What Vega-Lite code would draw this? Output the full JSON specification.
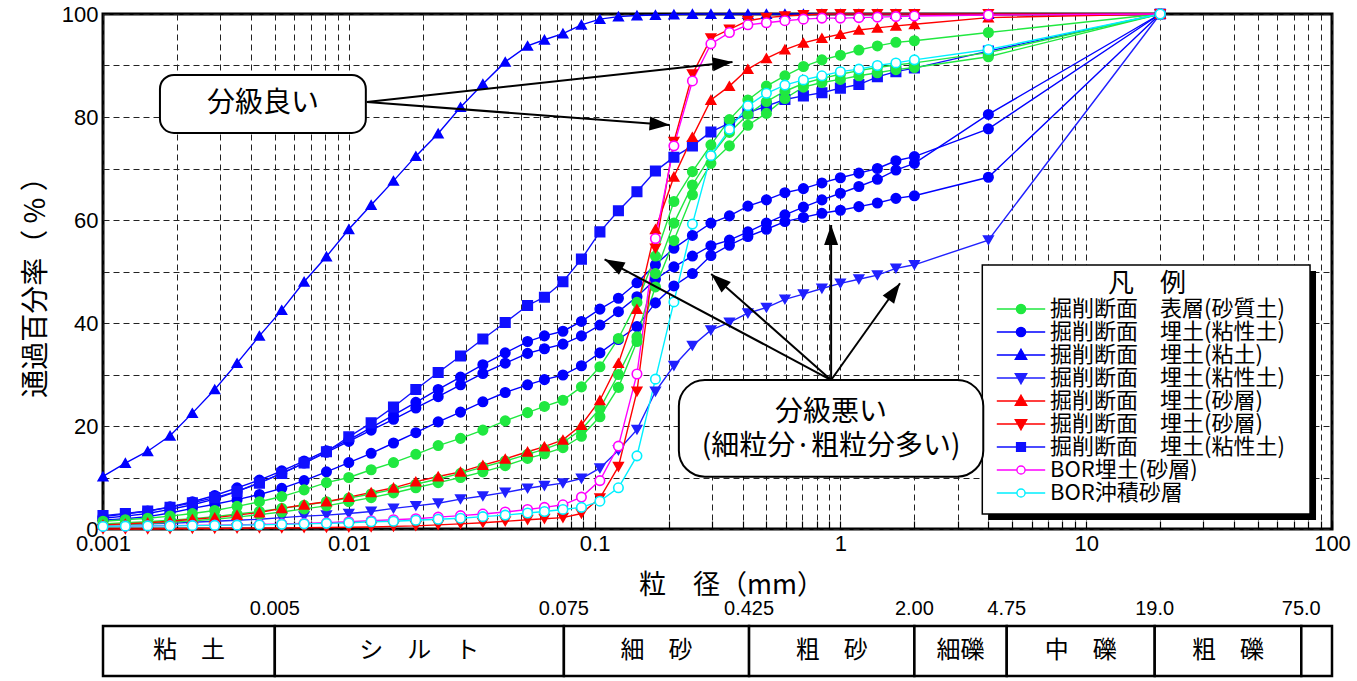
{
"$schema":"https://vega.github.io/schema/vega-lite/v6.json",
"width":1229,"height":515,
"autosize":{"type":"none"},
"padding":{"left":103,"top":14,"right":25,"bottom":152},
"background":"white",
"config":{
"font":"Noto Sans CJK JP",
"view":{"stroke":"#000","strokeWidth":3},
"axis":{"gridColor":"#222","gridDash":[6,4],"gridWidth":1,"domain":false,"labelColor":"#000","titleColor":"#000","labelFont":"Liberation Sans","labelFontSize":22,"titleFont":"Noto Sans CJK JP","titleFontWeight":"normal"},
"text":{"font":"Noto Sans CJK JP","color":"#000"}
},
"datasets":{
"curves":[
{"s":"B3","k":"2","x":0.001,"y":1.7},{"s":"B3","k":"2","x":0.001233,"y":2.0},{"s":"B3","k":"2","x":0.00152,"y":2.4},{"s":"B3","k":"2","x":0.001874,"y":3.1},{"s":"B3","k":"2","x":0.00231,"y":4.0},{"s":"B3","k":"2","x":0.002848,"y":4.8},{"s":"B3","k":"2","x":0.003511,"y":5.7},{"s":"B3","k":"2","x":0.004329,"y":6.7},{"s":"B3","k":"2","x":0.005337,"y":7.9},{"s":"B3","k":"2","x":0.006579,"y":9.4},{"s":"B3","k":"2","x":0.008111,"y":11.1},{"s":"B3","k":"2","x":0.01,"y":12.9},{"s":"B3","k":"2","x":0.01233,"y":14.7},{"s":"B3","k":"2","x":0.0152,"y":16.7},{"s":"B3","k":"2","x":0.01874,"y":18.7},{"s":"B3","k":"2","x":0.0231,"y":20.8},{"s":"B3","k":"2","x":0.02848,"y":22.7},{"s":"B3","k":"2","x":0.03511,"y":24.7},{"s":"B3","k":"2","x":0.04329,"y":26.5},{"s":"B3","k":"2","x":0.05337,"y":28.0},{"s":"B3","k":"2","x":0.0625,"y":29.0},{"s":"B3","k":"2","x":0.07433,"y":29.9},{"s":"B3","k":"2","x":0.08839,"y":31.7},{"s":"B3","k":"2","x":0.1051,"y":34.2},{"s":"B3","k":"2","x":0.125,"y":36.8},{"s":"B3","k":"2","x":0.1487,"y":39.3},{"s":"B3","k":"2","x":0.1768,"y":43.9},{"s":"B3","k":"2","x":0.2102,"y":47.2},{"s":"B3","k":"2","x":0.25,"y":49.6},{"s":"B3","k":"2","x":0.2973,"y":53.1},{"s":"B3","k":"2","x":0.3536,"y":55.1},{"s":"B3","k":"2","x":0.4204,"y":56.8},{"s":"B3","k":"2","x":0.5,"y":58.2},{"s":"B3","k":"2","x":0.5946,"y":59.7},{"s":"B3","k":"2","x":0.7071,"y":60.5},{"s":"B3","k":"2","x":0.8409,"y":61.3},{"s":"B3","k":"2","x":1,"y":61.9},{"s":"B3","k":"2","x":1.189,"y":62.6},{"s":"B3","k":"2","x":1.414,"y":63.3},{"s":"B3","k":"2","x":1.682,"y":64.2},{"s":"B3","k":"2","x":2,"y":64.7},{"s":"B3","k":"2","x":4,"y":68.3},{"s":"B3","k":"2","x":20,"y":100},
{"s":"B2","k":"2","x":0.001,"y":2.1},{"s":"B2","k":"2","x":0.001233,"y":2.5},{"s":"B2","k":"2","x":0.00152,"y":3.0},{"s":"B2","k":"2","x":0.001874,"y":3.8},{"s":"B2","k":"2","x":0.00231,"y":4.7},{"s":"B2","k":"2","x":0.002848,"y":5.8},{"s":"B2","k":"2","x":0.003511,"y":7.3},{"s":"B2","k":"2","x":0.004329,"y":9.0},{"s":"B2","k":"2","x":0.005337,"y":10.8},{"s":"B2","k":"2","x":0.006579,"y":12.8},{"s":"B2","k":"2","x":0.008111,"y":14.9},{"s":"B2","k":"2","x":0.01,"y":17.0},{"s":"B2","k":"2","x":0.01233,"y":19.2},{"s":"B2","k":"2","x":0.0152,"y":21.3},{"s":"B2","k":"2","x":0.01874,"y":23.5},{"s":"B2","k":"2","x":0.0231,"y":25.7},{"s":"B2","k":"2","x":0.02848,"y":28.0},{"s":"B2","k":"2","x":0.03511,"y":30.2},{"s":"B2","k":"2","x":0.04329,"y":32.2},{"s":"B2","k":"2","x":0.05337,"y":34.1},{"s":"B2","k":"2","x":0.0625,"y":35.0},{"s":"B2","k":"2","x":0.07433,"y":35.9},{"s":"B2","k":"2","x":0.08839,"y":37.5},{"s":"B2","k":"2","x":0.1051,"y":39.6},{"s":"B2","k":"2","x":0.125,"y":42.2},{"s":"B2","k":"2","x":0.1487,"y":45.1},{"s":"B2","k":"2","x":0.1768,"y":48.5},{"s":"B2","k":"2","x":0.2102,"y":50.9},{"s":"B2","k":"2","x":0.25,"y":53.0},{"s":"B2","k":"2","x":0.2973,"y":55.0},{"s":"B2","k":"2","x":0.3536,"y":56.1},{"s":"B2","k":"2","x":0.4204,"y":57.7},{"s":"B2","k":"2","x":0.5,"y":59.4},{"s":"B2","k":"2","x":0.5946,"y":61.0},{"s":"B2","k":"2","x":0.7071,"y":62.5},{"s":"B2","k":"2","x":0.8409,"y":63.9},{"s":"B2","k":"2","x":1,"y":65.2},{"s":"B2","k":"2","x":1.189,"y":66.5},{"s":"B2","k":"2","x":1.414,"y":67.9},{"s":"B2","k":"2","x":1.682,"y":69.7},{"s":"B2","k":"2","x":2,"y":71.0},{"s":"B2","k":"2","x":4,"y":80.5},{"s":"B2","k":"2","x":20,"y":100},
{"s":"B1","k":"2","x":0.001,"y":2.4},{"s":"B1","k":"2","x":0.001233,"y":2.9},{"s":"B1","k":"2","x":0.00152,"y":3.5},{"s":"B1","k":"2","x":0.001874,"y":4.3},{"s":"B1","k":"2","x":0.00231,"y":5.3},{"s":"B1","k":"2","x":0.002848,"y":6.5},{"s":"B1","k":"2","x":0.003511,"y":8.0},{"s":"B1","k":"2","x":0.004329,"y":9.5},{"s":"B1","k":"2","x":0.005337,"y":11.3},{"s":"B1","k":"2","x":0.006579,"y":13.2},{"s":"B1","k":"2","x":0.008111,"y":15.2},{"s":"B1","k":"2","x":0.01,"y":17.3},{"s":"B1","k":"2","x":0.01233,"y":19.7},{"s":"B1","k":"2","x":0.0152,"y":22.1},{"s":"B1","k":"2","x":0.01874,"y":24.6},{"s":"B1","k":"2","x":0.0231,"y":27.1},{"s":"B1","k":"2","x":0.02848,"y":29.5},{"s":"B1","k":"2","x":0.03511,"y":31.9},{"s":"B1","k":"2","x":0.04329,"y":34.2},{"s":"B1","k":"2","x":0.05337,"y":36.4},{"s":"B1","k":"2","x":0.0625,"y":37.5},{"s":"B1","k":"2","x":0.07433,"y":38.4},{"s":"B1","k":"2","x":0.08839,"y":40.3},{"s":"B1","k":"2","x":0.1051,"y":42.7},{"s":"B1","k":"2","x":0.125,"y":44.8},{"s":"B1","k":"2","x":0.1487,"y":47.8},{"s":"B1","k":"2","x":0.1768,"y":51.3},{"s":"B1","k":"2","x":0.2102,"y":54.5},{"s":"B1","k":"2","x":0.25,"y":57.0},{"s":"B1","k":"2","x":0.2973,"y":59.4},{"s":"B1","k":"2","x":0.3536,"y":60.8},{"s":"B1","k":"2","x":0.4204,"y":62.7},{"s":"B1","k":"2","x":0.5,"y":63.9},{"s":"B1","k":"2","x":0.5946,"y":65.3},{"s":"B1","k":"2","x":0.7071,"y":66.1},{"s":"B1","k":"2","x":0.8409,"y":67.2},{"s":"B1","k":"2","x":1,"y":68.2},{"s":"B1","k":"2","x":1.189,"y":69.1},{"s":"B1","k":"2","x":1.414,"y":70.0},{"s":"B1","k":"2","x":1.682,"y":71.5},{"s":"B1","k":"2","x":2,"y":72.3},{"s":"B1","k":"2","x":4,"y":77.7},{"s":"B1","k":"2","x":20,"y":100},
{"s":"BU","k":"3","x":0.001,"y":10.2},{"s":"BU","k":"3","x":0.001233,"y":12.8},{"s":"BU","k":"3","x":0.00152,"y":15.1},{"s":"BU","k":"3","x":0.001874,"y":18.1},{"s":"BU","k":"3","x":0.00231,"y":22.5},{"s":"BU","k":"3","x":0.002848,"y":27.1},{"s":"BU","k":"3","x":0.003511,"y":32.2},{"s":"BU","k":"3","x":0.004329,"y":37.5},{"s":"BU","k":"3","x":0.005337,"y":42.5},{"s":"BU","k":"3","x":0.006579,"y":48.0},{"s":"BU","k":"3","x":0.008111,"y":52.9},{"s":"BU","k":"3","x":0.01,"y":58.2},{"s":"BU","k":"3","x":0.01233,"y":62.9},{"s":"BU","k":"3","x":0.0152,"y":67.6},{"s":"BU","k":"3","x":0.01874,"y":72.4},{"s":"BU","k":"3","x":0.0231,"y":76.8},{"s":"BU","k":"3","x":0.02848,"y":81.9},{"s":"BU","k":"3","x":0.03511,"y":86.4},{"s":"BU","k":"3","x":0.04329,"y":90.7},{"s":"BU","k":"3","x":0.05337,"y":93.8},{"s":"BU","k":"3","x":0.0625,"y":95.0},{"s":"BU","k":"3","x":0.07433,"y":96.2},{"s":"BU","k":"3","x":0.08839,"y":97.9},{"s":"BU","k":"3","x":0.1051,"y":99.0},{"s":"BU","k":"3","x":0.125,"y":99.5},{"s":"BU","k":"3","x":0.1487,"y":99.7},{"s":"BU","k":"3","x":0.1768,"y":99.8},{"s":"BU","k":"3","x":0.2102,"y":99.9},{"s":"BU","k":"3","x":0.25,"y":100},{"s":"BU","k":"3","x":0.2973,"y":100},{"s":"BU","k":"3","x":0.3536,"y":100},{"s":"BU","k":"3","x":0.4204,"y":100},{"s":"BU","k":"3","x":0.5,"y":100},{"s":"BU","k":"3","x":0.5946,"y":100},{"s":"BU","k":"3","x":0.7071,"y":100},{"s":"BU","k":"3","x":0.8409,"y":100},{"s":"BU","k":"3","x":1,"y":100},{"s":"BU","k":"3","x":1.189,"y":100},{"s":"BU","k":"3","x":1.414,"y":100},{"s":"BU","k":"3","x":1.682,"y":100},{"s":"BU","k":"3","x":2,"y":100},{"s":"BU","k":"3","x":4,"y":100},{"s":"BU","k":"3","x":20,"y":100},
{"s":"BD","k":"4","x":0.001,"y":0.8},{"s":"BD","k":"4","x":0.001233,"y":0.9},{"s":"BD","k":"4","x":0.00152,"y":1.0},{"s":"BD","k":"4","x":0.001874,"y":1.1},{"s":"BD","k":"4","x":0.00231,"y":1.3},{"s":"BD","k":"4","x":0.002848,"y":1.5},{"s":"BD","k":"4","x":0.003511,"y":1.7},{"s":"BD","k":"4","x":0.004329,"y":1.9},{"s":"BD","k":"4","x":0.005337,"y":2.2},{"s":"BD","k":"4","x":0.006579,"y":2.5},{"s":"BD","k":"4","x":0.008111,"y":2.7},{"s":"BD","k":"4","x":0.01,"y":3.0},{"s":"BD","k":"4","x":0.01233,"y":3.4},{"s":"BD","k":"4","x":0.0152,"y":4.0},{"s":"BD","k":"4","x":0.01874,"y":4.5},{"s":"BD","k":"4","x":0.0231,"y":5.0},{"s":"BD","k":"4","x":0.02848,"y":5.8},{"s":"BD","k":"4","x":0.03511,"y":6.4},{"s":"BD","k":"4","x":0.04329,"y":7.1},{"s":"BD","k":"4","x":0.05337,"y":7.9},{"s":"BD","k":"4","x":0.0625,"y":8.4},{"s":"BD","k":"4","x":0.07433,"y":8.9},{"s":"BD","k":"4","x":0.08839,"y":9.8},{"s":"BD","k":"4","x":0.1051,"y":11.8},{"s":"BD","k":"4","x":0.125,"y":15.3},{"s":"BD","k":"4","x":0.1487,"y":19.3},{"s":"BD","k":"4","x":0.1768,"y":26.7},{"s":"BD","k":"4","x":0.2102,"y":31.7},{"s":"BD","k":"4","x":0.25,"y":35.6},{"s":"BD","k":"4","x":0.2973,"y":38.6},{"s":"BD","k":"4","x":0.3536,"y":40.1},{"s":"BD","k":"4","x":0.4204,"y":41.9},{"s":"BD","k":"4","x":0.5,"y":43.0},{"s":"BD","k":"4","x":0.5946,"y":44.6},{"s":"BD","k":"4","x":0.7071,"y":45.6},{"s":"BD","k":"4","x":0.8409,"y":46.7},{"s":"BD","k":"4","x":1,"y":47.7},{"s":"BD","k":"4","x":1.189,"y":48.5},{"s":"BD","k":"4","x":1.414,"y":49.3},{"s":"BD","k":"4","x":1.682,"y":50.6},{"s":"BD","k":"4","x":2,"y":51.3},{"s":"BD","k":"4","x":4,"y":56.1},{"s":"BD","k":"4","x":20,"y":100},
{"s":"SQ","k":"7","x":0.001,"y":2.6},{"s":"SQ","k":"7","x":0.001233,"y":3.0},{"s":"SQ","k":"7","x":0.00152,"y":3.5},{"s":"SQ","k":"7","x":0.001874,"y":4.2},{"s":"SQ","k":"7","x":0.00231,"y":5.1},{"s":"SQ","k":"7","x":0.002848,"y":6.1},{"s":"SQ","k":"7","x":0.003511,"y":7.3},{"s":"SQ","k":"7","x":0.004329,"y":8.9},{"s":"SQ","k":"7","x":0.005337,"y":10.8},{"s":"SQ","k":"7","x":0.006579,"y":12.8},{"s":"SQ","k":"7","x":0.008111,"y":15.0},{"s":"SQ","k":"7","x":0.01,"y":17.9},{"s":"SQ","k":"7","x":0.01233,"y":20.6},{"s":"SQ","k":"7","x":0.0152,"y":23.7},{"s":"SQ","k":"7","x":0.01874,"y":27.1},{"s":"SQ","k":"7","x":0.0231,"y":30.4},{"s":"SQ","k":"7","x":0.02848,"y":33.6},{"s":"SQ","k":"7","x":0.03511,"y":36.9},{"s":"SQ","k":"7","x":0.04329,"y":40.1},{"s":"SQ","k":"7","x":0.05337,"y":43.4},{"s":"SQ","k":"7","x":0.0625,"y":45.0},{"s":"SQ","k":"7","x":0.07433,"y":48.0},{"s":"SQ","k":"7","x":0.08839,"y":52.4},{"s":"SQ","k":"7","x":0.1051,"y":57.7},{"s":"SQ","k":"7","x":0.125,"y":61.8},{"s":"SQ","k":"7","x":0.1487,"y":65.5},{"s":"SQ","k":"7","x":0.1768,"y":69.5},{"s":"SQ","k":"7","x":0.2102,"y":72.2},{"s":"SQ","k":"7","x":0.25,"y":74.4},{"s":"SQ","k":"7","x":0.2973,"y":77.1},{"s":"SQ","k":"7","x":0.3536,"y":78.8},{"s":"SQ","k":"7","x":0.4204,"y":80.8},{"s":"SQ","k":"7","x":0.5,"y":82.1},{"s":"SQ","k":"7","x":0.5946,"y":83.4},{"s":"SQ","k":"7","x":0.7071,"y":84.1},{"s":"SQ","k":"7","x":0.8409,"y":84.7},{"s":"SQ","k":"7","x":1,"y":85.6},{"s":"SQ","k":"7","x":1.189,"y":86.3},{"s":"SQ","k":"7","x":1.414,"y":87.8},{"s":"SQ","k":"7","x":1.682,"y":88.8},{"s":"SQ","k":"7","x":2,"y":89.5},{"s":"SQ","k":"7","x":4,"y":92.8},{"s":"SQ","k":"7","x":20,"y":100},
{"s":"G3","k":"1","x":0.001,"y":0.7},{"s":"G3","k":"1","x":0.001233,"y":0.9},{"s":"G3","k":"1","x":0.00152,"y":1.1},{"s":"G3","k":"1","x":0.001874,"y":1.3},{"s":"G3","k":"1","x":0.00231,"y":1.6},{"s":"G3","k":"1","x":0.002848,"y":1.9},{"s":"G3","k":"1","x":0.003511,"y":2.3},{"s":"G3","k":"1","x":0.004329,"y":2.8},{"s":"G3","k":"1","x":0.005337,"y":3.3},{"s":"G3","k":"1","x":0.006579,"y":3.9},{"s":"G3","k":"1","x":0.008111,"y":4.5},{"s":"G3","k":"1","x":0.01,"y":5.3},{"s":"G3","k":"1","x":0.01233,"y":6.1},{"s":"G3","k":"1","x":0.0152,"y":7.0},{"s":"G3","k":"1","x":0.01874,"y":8.0},{"s":"G3","k":"1","x":0.0231,"y":9.0},{"s":"G3","k":"1","x":0.02848,"y":10.0},{"s":"G3","k":"1","x":0.03511,"y":11.1},{"s":"G3","k":"1","x":0.04329,"y":12.3},{"s":"G3","k":"1","x":0.05337,"y":13.7},{"s":"G3","k":"1","x":0.0625,"y":14.6},{"s":"G3","k":"1","x":0.07433,"y":15.8},{"s":"G3","k":"1","x":0.08839,"y":18.0},{"s":"G3","k":"1","x":0.1051,"y":21.8},{"s":"G3","k":"1","x":0.125,"y":27.5},{"s":"G3","k":"1","x":0.1487,"y":36.4},{"s":"G3","k":"1","x":0.1768,"y":47.0},{"s":"G3","k":"1","x":0.2102,"y":56.0},{"s":"G3","k":"1","x":0.25,"y":64.9},{"s":"G3","k":"1","x":0.2973,"y":71.0},{"s":"G3","k":"1","x":0.3536,"y":74.4},{"s":"G3","k":"1","x":0.4204,"y":78.4},{"s":"G3","k":"1","x":0.5,"y":80.7},{"s":"G3","k":"1","x":0.5946,"y":83.6},{"s":"G3","k":"1","x":0.7071,"y":85.8},{"s":"G3","k":"1","x":0.8409,"y":86.7},{"s":"G3","k":"1","x":1,"y":87.3},{"s":"G3","k":"1","x":1.189,"y":88.0},{"s":"G3","k":"1","x":1.414,"y":88.6},{"s":"G3","k":"1","x":1.682,"y":89.2},{"s":"G3","k":"1","x":2,"y":89.6},{"s":"G3","k":"1","x":4,"y":91.7},{"s":"G3","k":"1","x":20,"y":100},
{"s":"G2","k":"1","x":0.001,"y":1.0},{"s":"G2","k":"1","x":0.001233,"y":1.2},{"s":"G2","k":"1","x":0.00152,"y":1.4},{"s":"G2","k":"1","x":0.001874,"y":1.7},{"s":"G2","k":"1","x":0.00231,"y":2.0},{"s":"G2","k":"1","x":0.002848,"y":2.4},{"s":"G2","k":"1","x":0.003511,"y":2.9},{"s":"G2","k":"1","x":0.004329,"y":3.4},{"s":"G2","k":"1","x":0.005337,"y":4.0},{"s":"G2","k":"1","x":0.006579,"y":4.6},{"s":"G2","k":"1","x":0.008111,"y":5.3},{"s":"G2","k":"1","x":0.01,"y":6.0},{"s":"G2","k":"1","x":0.01233,"y":6.8},{"s":"G2","k":"1","x":0.0152,"y":7.7},{"s":"G2","k":"1","x":0.01874,"y":8.7},{"s":"G2","k":"1","x":0.0231,"y":9.7},{"s":"G2","k":"1","x":0.02848,"y":10.8},{"s":"G2","k":"1","x":0.03511,"y":12.0},{"s":"G2","k":"1","x":0.04329,"y":13.2},{"s":"G2","k":"1","x":0.05337,"y":14.5},{"s":"G2","k":"1","x":0.0625,"y":15.5},{"s":"G2","k":"1","x":0.07433,"y":16.8},{"s":"G2","k":"1","x":0.08839,"y":19.3},{"s":"G2","k":"1","x":0.1051,"y":23.4},{"s":"G2","k":"1","x":0.125,"y":30.0},{"s":"G2","k":"1","x":0.1487,"y":37.3},{"s":"G2","k":"1","x":0.1768,"y":49.6},{"s":"G2","k":"1","x":0.2102,"y":59.4},{"s":"G2","k":"1","x":0.25,"y":66.8},{"s":"G2","k":"1","x":0.2973,"y":72.5},{"s":"G2","k":"1","x":0.3536,"y":77.0},{"s":"G2","k":"1","x":0.4204,"y":80.5},{"s":"G2","k":"1","x":0.5,"y":83.0},{"s":"G2","k":"1","x":0.5946,"y":85.0},{"s":"G2","k":"1","x":0.7071,"y":86.5},{"s":"G2","k":"1","x":0.8409,"y":87.5},{"s":"G2","k":"1","x":1,"y":88.3},{"s":"G2","k":"1","x":1.189,"y":89.0},{"s":"G2","k":"1","x":1.414,"y":89.6},{"s":"G2","k":"1","x":1.682,"y":90.1},{"s":"G2","k":"1","x":2,"y":90.5},{"s":"G2","k":"1","x":4,"y":92.5},{"s":"G2","k":"1","x":20,"y":100},
{"s":"G1","k":"1","x":0.001,"y":1.5},{"s":"G1","k":"1","x":0.001233,"y":1.8},{"s":"G1","k":"1","x":0.00152,"y":2.1},{"s":"G1","k":"1","x":0.001874,"y":2.5},{"s":"G1","k":"1","x":0.00231,"y":3.0},{"s":"G1","k":"1","x":0.002848,"y":3.6},{"s":"G1","k":"1","x":0.003511,"y":4.4},{"s":"G1","k":"1","x":0.004329,"y":5.3},{"s":"G1","k":"1","x":0.005337,"y":6.3},{"s":"G1","k":"1","x":0.006579,"y":7.6},{"s":"G1","k":"1","x":0.008111,"y":9.0},{"s":"G1","k":"1","x":0.01,"y":10.0},{"s":"G1","k":"1","x":0.01233,"y":11.5},{"s":"G1","k":"1","x":0.0152,"y":12.9},{"s":"G1","k":"1","x":0.01874,"y":14.5},{"s":"G1","k":"1","x":0.0231,"y":16.2},{"s":"G1","k":"1","x":0.02848,"y":17.6},{"s":"G1","k":"1","x":0.03511,"y":19.2},{"s":"G1","k":"1","x":0.04329,"y":21.0},{"s":"G1","k":"1","x":0.05337,"y":22.6},{"s":"G1","k":"1","x":0.0625,"y":23.8},{"s":"G1","k":"1","x":0.07433,"y":25.0},{"s":"G1","k":"1","x":0.08839,"y":27.6},{"s":"G1","k":"1","x":0.1051,"y":31.5},{"s":"G1","k":"1","x":0.125,"y":37.0},{"s":"G1","k":"1","x":0.1487,"y":44.0},{"s":"G1","k":"1","x":0.1768,"y":53.0},{"s":"G1","k":"1","x":0.2102,"y":63.6},{"s":"G1","k":"1","x":0.25,"y":69.4},{"s":"G1","k":"1","x":0.2973,"y":74.6},{"s":"G1","k":"1","x":0.3536,"y":79.5},{"s":"G1","k":"1","x":0.4204,"y":83.3},{"s":"G1","k":"1","x":0.5,"y":86.0},{"s":"G1","k":"1","x":0.5946,"y":88.0},{"s":"G1","k":"1","x":0.7071,"y":89.8},{"s":"G1","k":"1","x":0.8409,"y":91.1},{"s":"G1","k":"1","x":1,"y":92.0},{"s":"G1","k":"1","x":1.189,"y":93.0},{"s":"G1","k":"1","x":1.414,"y":93.8},{"s":"G1","k":"1","x":1.682,"y":94.5},{"s":"G1","k":"1","x":2,"y":94.8},{"s":"G1","k":"1","x":4,"y":96.4},{"s":"G1","k":"1","x":20,"y":100},
{"s":"RU","k":"5","x":0.001,"y":0.8},{"s":"RU","k":"5","x":0.001233,"y":1.0},{"s":"RU","k":"5","x":0.00152,"y":1.2},{"s":"RU","k":"5","x":0.001874,"y":1.5},{"s":"RU","k":"5","x":0.00231,"y":1.9},{"s":"RU","k":"5","x":0.002848,"y":2.2},{"s":"RU","k":"5","x":0.003511,"y":2.7},{"s":"RU","k":"5","x":0.004329,"y":3.2},{"s":"RU","k":"5","x":0.005337,"y":4.0},{"s":"RU","k":"5","x":0.006579,"y":4.7},{"s":"RU","k":"5","x":0.008111,"y":5.3},{"s":"RU","k":"5","x":0.01,"y":6.2},{"s":"RU","k":"5","x":0.01233,"y":7.1},{"s":"RU","k":"5","x":0.0152,"y":8.0},{"s":"RU","k":"5","x":0.01874,"y":9.2},{"s":"RU","k":"5","x":0.0231,"y":10.2},{"s":"RU","k":"5","x":0.02848,"y":11.1},{"s":"RU","k":"5","x":0.03511,"y":12.4},{"s":"RU","k":"5","x":0.04329,"y":13.6},{"s":"RU","k":"5","x":0.05337,"y":15.0},{"s":"RU","k":"5","x":0.0625,"y":16.0},{"s":"RU","k":"5","x":0.07433,"y":17.3},{"s":"RU","k":"5","x":0.08839,"y":20.2},{"s":"RU","k":"5","x":0.1051,"y":25.0},{"s":"RU","k":"5","x":0.125,"y":32.2},{"s":"RU","k":"5","x":0.1487,"y":42.7},{"s":"RU","k":"5","x":0.1768,"y":58.2},{"s":"RU","k":"5","x":0.2102,"y":68.4},{"s":"RU","k":"5","x":0.25,"y":76.1},{"s":"RU","k":"5","x":0.2973,"y":83.3},{"s":"RU","k":"5","x":0.3536,"y":86.0},{"s":"RU","k":"5","x":0.4204,"y":89.3},{"s":"RU","k":"5","x":0.5,"y":91.4},{"s":"RU","k":"5","x":0.5946,"y":93.1},{"s":"RU","k":"5","x":0.7071,"y":94.4},{"s":"RU","k":"5","x":0.8409,"y":95.3},{"s":"RU","k":"5","x":1,"y":96.1},{"s":"RU","k":"5","x":1.189,"y":96.9},{"s":"RU","k":"5","x":1.414,"y":97.3},{"s":"RU","k":"5","x":1.682,"y":97.7},{"s":"RU","k":"5","x":2,"y":98.0},{"s":"RU","k":"5","x":4,"y":99.3},{"s":"RU","k":"5","x":20,"y":100},
{"s":"RD","k":"6","x":0.001,"y":0},{"s":"RD","k":"6","x":0.001233,"y":0},{"s":"RD","k":"6","x":0.00152,"y":0},{"s":"RD","k":"6","x":0.001874,"y":0.05},{"s":"RD","k":"6","x":0.00231,"y":0.1},{"s":"RD","k":"6","x":0.002848,"y":0.1},{"s":"RD","k":"6","x":0.003511,"y":0.15},{"s":"RD","k":"6","x":0.004329,"y":0.2},{"s":"RD","k":"6","x":0.005337,"y":0.2},{"s":"RD","k":"6","x":0.006579,"y":0.25},{"s":"RD","k":"6","x":0.008111,"y":0.3},{"s":"RD","k":"6","x":0.01,"y":0.35},{"s":"RD","k":"6","x":0.01233,"y":0.4},{"s":"RD","k":"6","x":0.0152,"y":0.5},{"s":"RD","k":"6","x":0.01874,"y":0.6},{"s":"RD","k":"6","x":0.0231,"y":0.8},{"s":"RD","k":"6","x":0.02848,"y":1.0},{"s":"RD","k":"6","x":0.03511,"y":1.2},{"s":"RD","k":"6","x":0.04329,"y":1.5},{"s":"RD","k":"6","x":0.05337,"y":1.8},{"s":"RD","k":"6","x":0.0625,"y":2.0},{"s":"RD","k":"6","x":0.07433,"y":2.2},{"s":"RD","k":"6","x":0.08839,"y":3.0},{"s":"RD","k":"6","x":0.1051,"y":6.0},{"s":"RD","k":"6","x":0.125,"y":12.1},{"s":"RD","k":"6","x":0.1487,"y":26.7},{"s":"RD","k":"6","x":0.1768,"y":54.5},{"s":"RD","k":"6","x":0.2102,"y":75.2},{"s":"RD","k":"6","x":0.25,"y":88.3},{"s":"RD","k":"6","x":0.2973,"y":95.3},{"s":"RD","k":"6","x":0.3536,"y":97.0},{"s":"RD","k":"6","x":0.4204,"y":98.7},{"s":"RD","k":"6","x":0.5,"y":99.3},{"s":"RD","k":"6","x":0.5946,"y":99.6},{"s":"RD","k":"6","x":0.7071,"y":99.8},{"s":"RD","k":"6","x":0.8409,"y":100},{"s":"RD","k":"6","x":1,"y":100},{"s":"RD","k":"6","x":1.189,"y":100},{"s":"RD","k":"6","x":1.414,"y":100},{"s":"RD","k":"6","x":1.682,"y":100},{"s":"RD","k":"6","x":2,"y":100},{"s":"RD","k":"6","x":4,"y":100},{"s":"RD","k":"6","x":20,"y":100},
{"s":"MG","k":"8","x":0.001,"y":0.5},{"s":"MG","k":"8","x":0.001233,"y":0.55},{"s":"MG","k":"8","x":0.00152,"y":0.6},{"s":"MG","k":"8","x":0.001874,"y":0.65},{"s":"MG","k":"8","x":0.00231,"y":0.7},{"s":"MG","k":"8","x":0.002848,"y":0.75},{"s":"MG","k":"8","x":0.003511,"y":0.8},{"s":"MG","k":"8","x":0.004329,"y":0.9},{"s":"MG","k":"8","x":0.005337,"y":1.0},{"s":"MG","k":"8","x":0.006579,"y":1.1},{"s":"MG","k":"8","x":0.008111,"y":1.2},{"s":"MG","k":"8","x":0.01,"y":1.4},{"s":"MG","k":"8","x":0.01233,"y":1.6},{"s":"MG","k":"8","x":0.0152,"y":1.8},{"s":"MG","k":"8","x":0.01874,"y":2.0},{"s":"MG","k":"8","x":0.0231,"y":2.3},{"s":"MG","k":"8","x":0.02848,"y":2.6},{"s":"MG","k":"8","x":0.03511,"y":2.9},{"s":"MG","k":"8","x":0.04329,"y":3.3},{"s":"MG","k":"8","x":0.05337,"y":3.8},{"s":"MG","k":"8","x":0.0625,"y":4.2},{"s":"MG","k":"8","x":0.07433,"y":4.7},{"s":"MG","k":"8","x":0.08839,"y":6.2},{"s":"MG","k":"8","x":0.1051,"y":9.4},{"s":"MG","k":"8","x":0.125,"y":16.1},{"s":"MG","k":"8","x":0.1487,"y":30.1},{"s":"MG","k":"8","x":0.1768,"y":56.4},{"s":"MG","k":"8","x":0.2102,"y":74.4},{"s":"MG","k":"8","x":0.25,"y":87.0},{"s":"MG","k":"8","x":0.2973,"y":94.2},{"s":"MG","k":"8","x":0.3536,"y":96.4},{"s":"MG","k":"8","x":0.4204,"y":97.9},{"s":"MG","k":"8","x":0.5,"y":98.3},{"s":"MG","k":"8","x":0.5946,"y":98.7},{"s":"MG","k":"8","x":0.7071,"y":99.0},{"s":"MG","k":"8","x":0.8409,"y":99.2},{"s":"MG","k":"8","x":1,"y":99.2},{"s":"MG","k":"8","x":1.189,"y":99.3},{"s":"MG","k":"8","x":1.414,"y":99.4},{"s":"MG","k":"8","x":1.682,"y":99.5},{"s":"MG","k":"8","x":2,"y":99.6},{"s":"MG","k":"8","x":4,"y":99.8},{"s":"MG","k":"8","x":20,"y":100},
{"s":"CY","k":"9","x":0.001,"y":0.5},{"s":"CY","k":"9","x":0.001233,"y":0.55},{"s":"CY","k":"9","x":0.00152,"y":0.6},{"s":"CY","k":"9","x":0.001874,"y":0.6},{"s":"CY","k":"9","x":0.00231,"y":0.65},{"s":"CY","k":"9","x":0.002848,"y":0.7},{"s":"CY","k":"9","x":0.003511,"y":0.75},{"s":"CY","k":"9","x":0.004329,"y":0.8},{"s":"CY","k":"9","x":0.005337,"y":0.9},{"s":"CY","k":"9","x":0.006579,"y":1.0},{"s":"CY","k":"9","x":0.008111,"y":1.1},{"s":"CY","k":"9","x":0.01,"y":1.2},{"s":"CY","k":"9","x":0.01233,"y":1.4},{"s":"CY","k":"9","x":0.0152,"y":1.5},{"s":"CY","k":"9","x":0.01874,"y":1.7},{"s":"CY","k":"9","x":0.0231,"y":1.9},{"s":"CY","k":"9","x":0.02848,"y":2.1},{"s":"CY","k":"9","x":0.03511,"y":2.4},{"s":"CY","k":"9","x":0.04329,"y":2.7},{"s":"CY","k":"9","x":0.05337,"y":3.1},{"s":"CY","k":"9","x":0.0625,"y":3.4},{"s":"CY","k":"9","x":0.07433,"y":3.8},{"s":"CY","k":"9","x":0.08839,"y":4.2},{"s":"CY","k":"9","x":0.1051,"y":5.4},{"s":"CY","k":"9","x":0.125,"y":8.0},{"s":"CY","k":"9","x":0.1487,"y":14.2},{"s":"CY","k":"9","x":0.1768,"y":29.1},{"s":"CY","k":"9","x":0.2102,"y":44.1},{"s":"CY","k":"9","x":0.25,"y":59.2},{"s":"CY","k":"9","x":0.2973,"y":72.5},{"s":"CY","k":"9","x":0.3536,"y":77.6},{"s":"CY","k":"9","x":0.4204,"y":82.2},{"s":"CY","k":"9","x":0.5,"y":84.6},{"s":"CY","k":"9","x":0.5946,"y":86.2},{"s":"CY","k":"9","x":0.7071,"y":87.2},{"s":"CY","k":"9","x":0.8409,"y":88.0},{"s":"CY","k":"9","x":1,"y":88.8},{"s":"CY","k":"9","x":1.189,"y":89.3},{"s":"CY","k":"9","x":1.414,"y":90.0},{"s":"CY","k":"9","x":1.682,"y":90.5},{"s":"CY","k":"9","x":2,"y":91.1},{"s":"CY","k":"9","x":4,"y":93.1},{"s":"CY","k":"9","x":20,"y":100}
],
"arrows":[
{"x":0.01184,"y":82.91,"x2":0.3639,"y2":90.68},
{"x":0.01184,"y":82.91,"x2":0.2018,"y2":78.45},
{"x":0.9167,"y":28.93,"x2":0.1098,"y2":52.37},
{"x":0.9167,"y":28.93,"x2":0.2981,"y2":49.51},
{"x":0.9167,"y":28.93,"x2":0.9167,"y2":59.03},
{"x":0.9167,"y":28.93,"x2":1.748,"y2":47.71}
],
"table":[
{"c":"粘　土","a":0.001,"b":0.005},{"c":"シ　ル　ト","a":0.005,"b":0.075},{"c":"細　砂","a":0.075,"b":0.425},{"c":"粗　砂","a":0.425,"b":2},{"c":"細礫","a":2,"b":4.75},{"c":"中　礫","a":4.75,"b":19},{"c":"粗　礫","a":19,"b":75},{"c":"","a":75,"b":100}
],
"bounds":[
{"v":0.005,"t":"0.005"},{"v":0.075,"t":"0.075"},{"v":0.425,"t":"0.425"},{"v":2,"t":"2.00"},{"v":4.75,"t":"4.75"},{"v":19,"t":"19.0"},{"v":75,"t":"75.0"}
]
},
"layer":[
{"data":{"name":"curves"},
"mark":{"type":"line","strokeWidth":1.4},
"encoding":{
"x":{"field":"x","type":"quantitative","scale":{"type":"log","domain":[0.001,100],"nice":false},
"axis":{"values":[0.001,0.002,0.003,0.004,0.005,0.006,0.007,0.008,0.009,0.01,0.02,0.03,0.04,0.05,0.06,0.07,0.08,0.09,0.1,0.2,0.3,0.4,0.5,0.6,0.7,0.8,0.9,1,2,3,4,5,6,7,8,9,10,20,30,40,50,60,70,80,90,100],
"format":"~g","labelExpr":"indexof([0.001,0.01,0.1,1,10,100], datum.value) >= 0 ? datum.label : ''","labelOverlap":false,"labelFlush":false,"labelPadding":12,"tickSize":-8,"tickColor":"#000","tickWidth":1.2,"grid":true,
"title":"粒　径（mm）","titleFontSize":27,"titleX":628,"titleY":56,"titleAlign":"center","titleBaseline":"middle"}},
"y":{"field":"y","type":"quantitative","scale":{"domain":[0,100],"nice":false},
"axis":{"values":[0,10,20,30,40,50,60,70,80,90,100],"labelExpr":"datum.value % 20 == 0 ? datum.label : ''","labelPadding":5,"ticks":false,"grid":true,
"title":"通過百分率（ % ）","titleFontSize":28,"titleX":-67,"titleY":266,"titleAngle":-90,"titleAlign":"center","titleBaseline":"middle"}},
"color":{"field":"k","type":"nominal","scale":{"domain":["1","2","3","4","5","6","7","8","9"],"range":["#20e840","#0000ff","#0000ff","#2020ff","#ff0000","#ff0000","#1010ff","#ff00ff","#00f0ff"]},
"legend":{"orient":"none","legendX":906,"legendY":257,"title":"凡　例","titleFont":"Noto Sans CJK JP","titleFontSize":26,"titleFontWeight":"normal","titleColor":"#000","titleAnchor":"middle","titlePadding":0,
"labelFont":"Noto Sans CJK JP","labelFontSize":22,"labelColor":"#000","labelLimit":400,"labelOffset":17,"symbolSize":484,"rowPadding":0,"padding":0,
"labelExpr":"['掘削断面　表層(砂質土)','掘削断面　埋土(粘性土)','掘削断面　埋土(粘土)','掘削断面　埋土(粘性土)','掘削断面　埋土(砂層)','掘削断面　埋土(砂層)','掘削断面　埋土(粘性土)','BOR埋土(砂層)','BOR沖積砂層'][toNumber(datum.value)-1]",
"encode":{"symbols":{"update":{
"shape":{"signal":"['M-2.2,0H-0.42M0.42,0H2.2M-0.42,0A0.42,0.42,0,1,0,0.42,0A0.42,0.42,0,1,0,-0.42,0Z','M-2.2,0H-0.42M0.42,0H2.2M-0.42,0A0.42,0.42,0,1,0,0.42,0A0.42,0.42,0,1,0,-0.42,0Z','M-2.2,0H-0.3M0.3,0H2.2M0,-0.52L0.52,0.4L-0.52,0.4Z','M-2.2,0H-0.3M0.3,0H2.2M0,0.52L0.52,-0.4L-0.52,-0.4Z','M-2.2,0H-0.3M0.3,0H2.2M0,-0.52L0.52,0.4L-0.52,0.4Z','M-2.2,0H-0.3M0.3,0H2.2M0,0.52L0.52,-0.4L-0.52,-0.4Z','M-2.2,0H-0.4M0.4,0H2.2M-0.4,-0.4H0.4V0.4H-0.4Z','M-2.2,0H-0.37M0.37,0H2.2M-0.37,0A0.37,0.37,0,1,0,0.37,0A0.37,0.37,0,1,0,-0.37,0Z','M-2.2,0H-0.37M0.37,0H2.2M-0.37,0A0.37,0.37,0,1,0,0.37,0A0.37,0.37,0,1,0,-0.37,0Z'][toNumber(datum.value)-1]"},
"fill":{"signal":"toNumber(datum.value) >= 8 ? '#ffffff' : scale('color', datum.value)"},
"stroke":{"signal":"scale('color', datum.value)"},
"size":{"value":484},
"strokeWidth":{"value":1.4},
"opacity":{"value":1}
}}}}},
"detail":{"field":"s"}
}},
{"data":{"name":"curves"},
"transform":[{"calculate":"'p' + datum.k","as":"m"}],
"mark":{"type":"point","filled":false,"opacity":1,"strokeWidth":1.6},
"encoding":{
"x":{"field":"x","type":"quantitative"},
"y":{"field":"y","type":"quantitative"},
"color":{"field":"k","type":"nominal"},
"fill":{"field":"m","type":"nominal","scale":{"domain":["p1","p2","p3","p4","p5","p6","p7","p8","p9"],"range":["#20e840","#0000ff","#0000ff","#2020ff","#ff0000","#ff0000","#1010ff","#ffffff","#ffffff"]},"legend":null},
"shape":{"field":"m","type":"nominal","scale":{"domain":["p1","p2","p3","p4","p5","p6","p7","p8","p9"],"range":["circle","circle","triangle-up","triangle-down","triangle-up","triangle-down","square","circle","circle"]},"legend":null},
"size":{"field":"m","type":"nominal","scale":{"domain":["p1","p2","p3","p4","p5","p6","p7","p8","p9"],"range":[90,90,125,125,125,125,95,65,65]},"legend":null}
}},
{"data":{"values":[{}]},"mark":{"type":"rect","fill":"#000"},
"encoding":{"x":{"datum":4.0,"type":"quantitative"},"x2":{"datum":86.1},"y":{"datum":50.1,"type":"quantitative"},"y2":{"datum":1.75}}},
{"data":{"values":[{}]},"mark":{"type":"rect","fill":"#fff","stroke":"#000","strokeWidth":1.5},
"encoding":{"x":{"datum":3.778,"type":"quantitative"},"x2":{"datum":81.4},"y":{"datum":51.26,"type":"quantitative"},"y2":{"datum":2.91}}},
{"data":{"values":[{}]},"mark":{"type":"rect","fill":"#fff","stroke":"#000","strokeWidth":2,"cornerRadius":14},
"encoding":{"x":{"datum":0.001705,"type":"quantitative"},"x2":{"datum":0.01173},"y":{"datum":88.16,"type":"quantitative"},"y2":{"datum":76.89}}},
{"data":{"values":[{}]},"mark":{"type":"text","fontSize":28,"font":"Noto Sans CJK JP","align":"center","baseline":"middle","color":"#000"},
"encoding":{"x":{"datum":0.004472,"type":"quantitative"},"y":{"datum":82.52,"type":"quantitative"},"text":{"value":"分級良い"}}},
{"data":{"values":[{}]},"mark":{"type":"rect","fill":"#fff","stroke":"#000","strokeWidth":2,"cornerRadius":26},
"encoding":{"x":{"datum":0.2202,"type":"quantitative"},"x2":{"datum":3.813},"y":{"datum":28.93,"type":"quantitative"},"y2":{"datum":10.16}}},
{"data":{"values":[{}]},"mark":{"type":"text","fontSize":28,"font":"Noto Sans CJK JP","align":"center","baseline":"middle","color":"#000"},
"encoding":{"x":{"datum":0.9167,"type":"quantitative"},"y":{"datum":22.47,"type":"quantitative"},"text":{"value":"分級悪い"}}},
{"data":{"values":[{}]},"mark":{"type":"text","fontSize":28,"font":"Noto Sans CJK JP","align":"center","baseline":"middle","color":"#000"},
"encoding":{"x":{"datum":0.9167,"type":"quantitative"},"y":{"datum":15.98,"type":"quantitative"},"text":{"value":"(細粒分·粗粒分多い)"}}},
{"data":{"name":"arrows"},"mark":{"type":"rule","color":"#000","strokeWidth":2},
"encoding":{"x":{"field":"x","type":"quantitative"},"y":{"field":"y","type":"quantitative"},"x2":{"field":"x2"},"y2":{"field":"y2"}}},
{"data":{"name":"arrows"},
"transform":[{"calculate":"atan2(-(datum.y2-datum.y)*5.15, (log(datum.x2)-log(datum.x))/LN10*246)*180/PI","as":"ang"}],
"mark":{"type":"point","shape":"M0,0L-2,-0.7L-2,0.7Z","filled":true,"color":"#000","size":400,"opacity":1,"strokeWidth":0},
"encoding":{"x":{"field":"x2","type":"quantitative"},"y":{"field":"y2","type":"quantitative"},"angle":{"field":"ang","type":"quantitative","scale":null}}},
{"data":{"name":"table"},"mark":{"type":"rect","fill":"#fff","stroke":"#000","strokeWidth":2.5},
"encoding":{"x":{"field":"a","type":"quantitative"},"x2":{"field":"b"},"y":{"datum":-18.83,"type":"quantitative"},"y2":{"datum":-28.54}}},
{"data":{"name":"table"},"transform":[{"calculate":"sqrt(datum.a*datum.b)","as":"m"}],
"mark":{"type":"text","fontSize":24,"font":"Noto Sans CJK JP","align":"center","baseline":"middle","color":"#000"},
"encoding":{"x":{"field":"m","type":"quantitative"},"y":{"datum":-23.69,"type":"quantitative"},"text":{"field":"c"}}},
{"data":{"name":"bounds"},
"mark":{"type":"text","fontSize":20,"font":"Liberation Sans","align":"center","baseline":"middle","color":"#000"},
"encoding":{"x":{"field":"v","type":"quantitative"},"y":{"datum":-15.53,"type":"quantitative"},"text":{"field":"t"}}}
]
}
